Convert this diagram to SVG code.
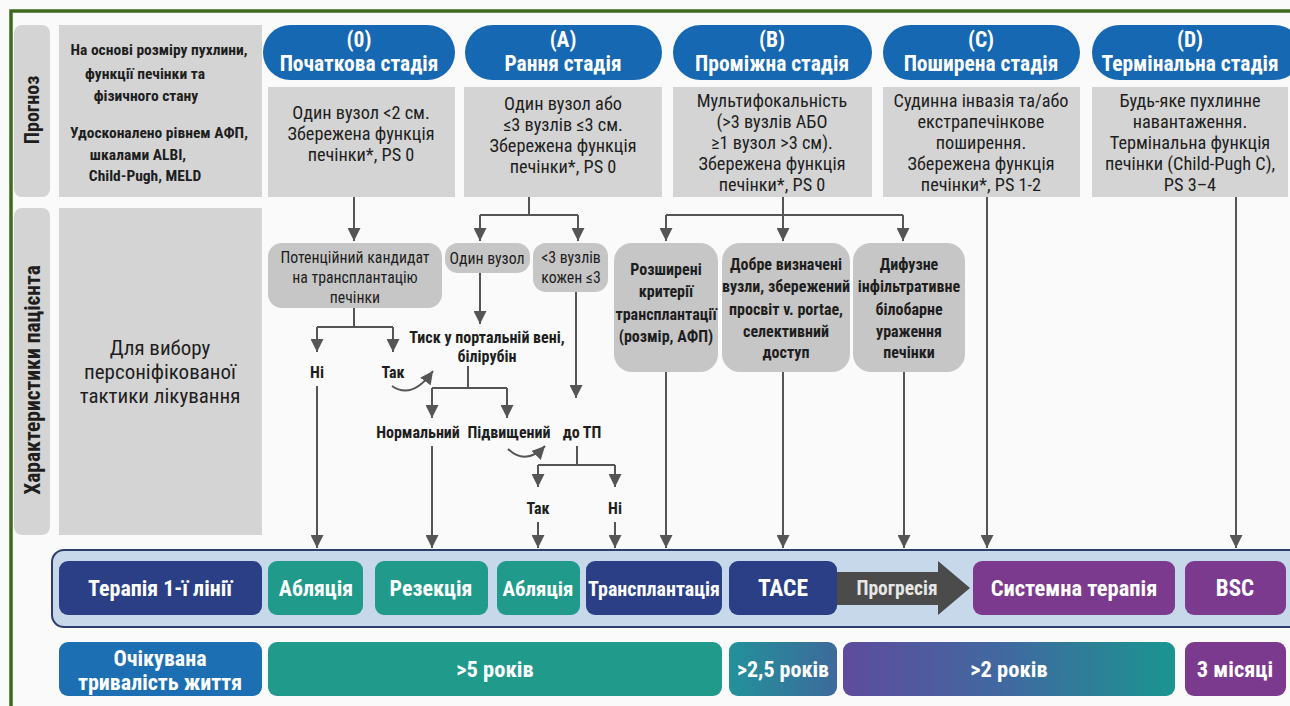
<svg xmlns="http://www.w3.org/2000/svg" width="1290" height="706" viewBox="0 0 1290 706">
<defs>
<style>
text{font-family:"Roboto Condensed","Liberation Sans Narrow","DejaVu Sans Condensed",Roboto,sans-serif;font-stretch:condensed;text-anchor:middle;fill:#1e1e1e}
.hdr{fill:#ffffff;font-size:21.5px;font-weight:700}
.box{font-size:18.3px}
.side{font-size:15.5px;font-weight:700}
.lab{font-weight:700}
.node{font-size:15.8px}
.nodeb{font-size:16px;font-weight:700}
.flow{font-size:16px;font-weight:700}
.btn{fill:#ffffff;font-size:22px;font-weight:700}
.gray{fill:#d4d4d4}
.pill{fill:#1768b2}
.fnode{fill:#c6c6c6}
.conn{stroke:#555;stroke-width:2;fill:none}
.navy{fill:#2b3f86}
.teal{fill:#1f9a8b}
.purple{fill:#7b3a8d}
</style>
<marker id="ah" markerUnits="userSpaceOnUse" markerWidth="13" markerHeight="13" refX="13" refY="6.5" orient="auto">
<path d="M0,0 L13,6.5 L0,13 z" fill="#555"/>
</marker>
<linearGradient id="g25" x1="0" y1="0" x2="1" y2="0"><stop offset="0" stop-color="#23919a"/><stop offset="1" stop-color="#3d6a9c"/></linearGradient>
<linearGradient id="g2" x1="0" y1="0" x2="1" y2="0"><stop offset="0" stop-color="#5e4c9d"/><stop offset="0.5" stop-color="#3f6aa0"/><stop offset="1" stop-color="#1a9590"/></linearGradient>
</defs>
<rect x="0" y="0" width="1290" height="706" fill="#fafafa"/>
<path d="M11,706 L11,11 L1290,11" fill="none" stroke="#3e6a1f" stroke-width="3.5"/>

<g id="row-prognosis">
<rect x="14" y="25" width="36" height="172" rx="8" class="gray"/>
<text class="lab" transform="translate(39,110) rotate(-90)" style="font-size:20px">Прогноз</text>
<rect x="59" y="25" width="203" height="172" class="gray"/>
<text class="side" x="159" y="55">На основі розміру пухлини,</text>
<text class="side" x="145" y="79">функції печінки та</text>
<text class="side" x="146" y="101">фізичного стану</text>
<text class="side" x="159" y="138">Удосконалено рівнем АФП,</text>
<text class="side" x="138" y="160">шкалами ALBI,</text>
<text class="side" x="145" y="181">Child-Pugh, MELD</text>
</g>

<g id="row-patient">
<rect x="14" y="208" width="36" height="327" rx="8" class="gray"/>
<text class="lab" transform="translate(40,380) rotate(-90)" style="font-size:21.5px">Характеристики пацієнта</text>
<rect x="59" y="208" width="203" height="327" class="gray"/>
<text x="160" y="355" style="font-size:21px">Для вибору</text>
<text x="160" y="379" style="font-size:21px">персоніфікованої</text>
<text x="160" y="403" style="font-size:21px">тактики лікування</text>
</g>

<g id="stage-0">
<rect x="263" y="25" width="192" height="55" rx="27.5" class="pill"/>
<text class="hdr" x="359" y="47">(0)</text>
<text class="hdr" x="359" y="71">Початкова стадія</text>
<rect x="268" y="87" width="187" height="110" class="gray"/>
<text class="box" x="361" y="119">Один вузол &lt;2 см.</text>
<text class="box" x="361" y="140">Збережена функція</text>
<text class="box" x="361" y="161">печінки*, PS 0</text>
</g>

<g id="stage-A">
<rect x="465" y="25" width="197" height="55" rx="27.5" class="pill"/>
<text class="hdr" x="563" y="47">(A)</text>
<text class="hdr" x="563" y="71">Рання стадія</text>
<rect x="464" y="87" width="198" height="110" class="gray"/>
<text class="box" x="563" y="110">Один вузол або</text>
<text class="box" x="563" y="131">≤3 вузлів ≤3 см.</text>
<text class="box" x="563" y="152">Збережена функція</text>
<text class="box" x="563" y="173">печінки*, PS 0</text>
</g>

<g id="stage-B">
<rect x="673" y="25" width="199" height="55" rx="27.5" class="pill"/>
<text class="hdr" x="772" y="47">(B)</text>
<text class="hdr" x="772" y="71">Проміжна стадія</text>
<rect x="673" y="87" width="199" height="110" class="gray"/>
<text class="box" x="772" y="107">Мультифокальність</text>
<text class="box" x="772" y="128">(&gt;3 вузлів АБО</text>
<text class="box" x="772" y="149">≥1 вузол &gt;3 см).</text>
<text class="box" x="772" y="170">Збережена функція</text>
<text class="box" x="772" y="191">печінки*, PS 0</text>
</g>

<g id="stage-C">
<rect x="883" y="25" width="197" height="55" rx="27.5" class="pill"/>
<text class="hdr" x="981" y="47">(C)</text>
<text class="hdr" x="981" y="71">Поширена стадія</text>
<rect x="883" y="87" width="197" height="110" class="gray"/>
<text class="box" x="981" y="107">Судинна інвазія та/або</text>
<text class="box" x="981" y="128">екстрапечінкове</text>
<text class="box" x="981" y="149">поширення.</text>
<text class="box" x="981" y="170">Збережена функція</text>
<text class="box" x="981" y="191">печінки*, PS 1-2</text>
</g>

<g id="stage-D">
<rect x="1092" y="25" width="210" height="55" rx="27.5" class="pill"/>
<text class="hdr" x="1190" y="47">(D)</text>
<text class="hdr" x="1190" y="71">Термінальна стадія</text>
<rect x="1092" y="87" width="196" height="110" class="gray"/>
<text class="box" x="1190" y="107">Будь-яке пухлинне</text>
<text class="box" x="1190" y="128">навантаження.</text>
<text class="box" x="1190" y="149">Термінальна функція</text>
<text class="box" x="1190" y="170">печінки (Child-Pugh C),</text>
<text class="box" x="1190" y="191">PS 3–4</text>
</g>

<g id="node-candidate">
<rect x="268" y="243" width="174" height="65" rx="14" class="fnode"/>
<text class="node" x="355" y="263">Потенційний кандидат</text>
<text class="node" x="355" y="283">на трансплантацію</text>
<text class="node" x="355" y="303">печінки</text>
</g>
<g id="node-single">
<rect x="445" y="243" width="85" height="30" rx="13" class="fnode"/>
<text class="node" x="487" y="264">Один вузол</text>
</g>
<g id="node-three">
<rect x="533" y="243" width="75" height="49" rx="13" class="fnode"/>
<text class="node" x="571" y="263">&lt;3 вузлів</text>
<text class="node" x="571" y="283">кожен ≤3</text>
</g>
<g id="node-extended">
<rect x="614" y="243" width="104" height="129" rx="18" class="fnode"/>
<text class="nodeb" x="666" y="275">Розширені</text>
<text class="nodeb" x="666" y="297">критерії</text>
<text class="nodeb" x="666" y="320">трансплантації</text>
<text class="nodeb" x="666" y="342">(розмір, АФП)</text>
</g>
<g id="node-defined">
<rect x="722" y="243" width="128" height="129" rx="18" class="fnode"/>
<text class="nodeb" x="786" y="270">Добре визначені</text>
<text class="nodeb" x="786" y="292">вузли, збережений</text>
<text class="nodeb" x="786" y="315">просвіт v. portae,</text>
<text class="nodeb" x="786" y="337">селективний</text>
<text class="nodeb" x="786" y="358">доступ</text>
</g>
<g id="node-diffuse">
<rect x="853" y="243" width="112" height="129" rx="18" class="fnode"/>
<text class="nodeb" x="909" y="270">Дифузне</text>
<text class="nodeb" x="909" y="292">інфільтративне</text>
<text class="nodeb" x="909" y="315">білобарне</text>
<text class="nodeb" x="909" y="337">ураження</text>
<text class="nodeb" x="909" y="358">печінки</text>
</g>

<g id="flow-labels">
<text class="flow" x="317" y="378">Ні</text>
<text class="flow" x="393" y="378">Так</text>
<text class="flow" x="487" y="343">Тиск у портальній вені,</text>
<text class="flow" x="487" y="362">білірубін</text>
<text class="flow" x="418" y="438">Нормальний</text>
<text class="flow" x="509" y="438">Підвищений</text>
<text class="flow" x="582" y="438">до ТП</text>
<text class="flow" x="538" y="514">Так</text>
<text class="flow" x="615" y="514">Ні</text>
</g>

<g id="connectors">
<path class="conn" d="M354,197 V241" marker-end="url(#ah)"/>
<path class="conn" d="M529,197 V215 M480,215 H578"/>
<path class="conn" d="M480,215 V241" marker-end="url(#ah)"/>
<path class="conn" d="M578,215 V241" marker-end="url(#ah)"/>
<path class="conn" d="M354,308 V327 M317,327 H393"/>
<path class="conn" d="M317,327 V352" marker-end="url(#ah)"/>
<path class="conn" d="M393,327 V352" marker-end="url(#ah)"/>
<path class="conn" d="M480,273 V324" marker-end="url(#ah)"/>
<path class="conn" d="M392,386 Q412,400 433,371" marker-end="url(#ah)"/>
<path class="conn" d="M468,366 V388 M432,388 H507"/>
<path class="conn" d="M432,388 V418" marker-end="url(#ah)"/>
<path class="conn" d="M507,388 V418" marker-end="url(#ah)"/>
<path class="conn" d="M508,449 Q526,466 545,446" marker-end="url(#ah)"/>
<path class="conn" d="M576,292 V398" marker-end="url(#ah)"/>
<path class="conn" d="M577,446 V465 M538,465 H615"/>
<path class="conn" d="M538,465 V487" marker-end="url(#ah)"/>
<path class="conn" d="M615,465 V487" marker-end="url(#ah)"/>
<path class="conn" d="M317,386 V548" marker-end="url(#ah)"/>
<path class="conn" d="M432,446 V548" marker-end="url(#ah)"/>
<path class="conn" d="M538,522 V548" marker-end="url(#ah)"/>
<path class="conn" d="M615,522 V548" marker-end="url(#ah)"/>
<path class="conn" d="M783,197 V215 M666,215 H903"/>
<path class="conn" d="M666,215 V241" marker-end="url(#ah)"/>
<path class="conn" d="M783,215 V241" marker-end="url(#ah)"/>
<path class="conn" d="M903,215 V241" marker-end="url(#ah)"/>
<path class="conn" d="M666,372 V548" marker-end="url(#ah)"/>
<path class="conn" d="M783,372 V548" marker-end="url(#ah)"/>
<path class="conn" d="M904,372 V548" marker-end="url(#ah)"/>
<path class="conn" d="M987,197 V548" marker-end="url(#ah)"/>
<path class="conn" d="M1236,197 V548" marker-end="url(#ah)"/>
</g>

<g id="therapy-row">
<rect x="52" y="550" width="1250" height="77" rx="12" fill="#c8d8eb" stroke="#2c3e6c" stroke-width="2"/>
<g id="btn-first-line"><rect x="59" y="561" width="203" height="54" rx="9" class="navy"/><text class="btn" x="160" y="596">Терапія 1-ї лінії</text></g>
<g id="btn-ablation1"><rect x="268" y="561" width="95" height="54" rx="9" class="teal"/><text class="btn" x="316" y="596">Абляція</text></g>
<g id="btn-resection"><rect x="375" y="561" width="113" height="54" rx="9" class="teal"/><text class="btn" x="431" y="596">Резекція</text></g>
<g id="btn-ablation2"><rect x="497" y="561" width="83" height="54" rx="9" class="teal"/><text class="btn" x="538" y="596" style="font-size:21px">Абляція</text></g>
<g id="btn-transplant"><rect x="586" y="561" width="136" height="54" rx="9" class="navy"/><text class="btn" x="654" y="596" style="font-size:20px">Трансплантація</text></g>
<g id="btn-tace"><rect x="729" y="561" width="108" height="54" rx="9" class="navy"/><text class="btn" x="783" y="596" style="font-size:23.5px">TACE</text></g>
<g id="arrow-progression"><path d="M837,572 H938 V561 L970,588 L938,615 V605 H837 z" fill="#4b4b4b"/><text class="btn" x="897" y="595" style="font-size:19.5px;fill:#e6e6e6">Прогресія</text></g>
<g id="btn-systemic"><rect x="973" y="561" width="202" height="54" rx="9" class="purple"/><text class="btn" x="1074" y="596" style="font-size:22.5px">Системна терапія</text></g>
<g id="btn-bsc"><rect x="1185" y="561" width="101" height="54" rx="9" class="purple"/><text class="btn" x="1235" y="596" style="font-size:23px">BSC</text></g>
</g>

<g id="survival-row">
<g id="surv-label"><rect x="59" y="642" width="203" height="54" rx="9" fill="#1d6fb3"/><text class="btn" x="160" y="666">Очікувана</text><text class="btn" x="160" y="690">тривалість життя</text></g>
<g id="surv-5"><rect x="268" y="642" width="454" height="54" rx="9" class="teal"/><text class="btn" x="495" y="677" style="font-size:22.5px">&gt;5 років</text></g>
<g id="surv-25"><rect x="729" y="642" width="108" height="54" rx="9" fill="url(#g25)"/><text class="btn" x="783" y="677">&gt;2,5 років</text></g>
<g id="surv-2"><rect x="843" y="642" width="332" height="54" rx="9" fill="url(#g2)"/><text class="btn" x="1009" y="677" style="font-size:22.5px">&gt;2 років</text></g>
<g id="surv-3m"><rect x="1185" y="642" width="101" height="54" rx="9" class="purple"/><text class="btn" x="1235" y="677" style="font-size:22.5px">3 місяці</text></g>
</g>
</svg>
